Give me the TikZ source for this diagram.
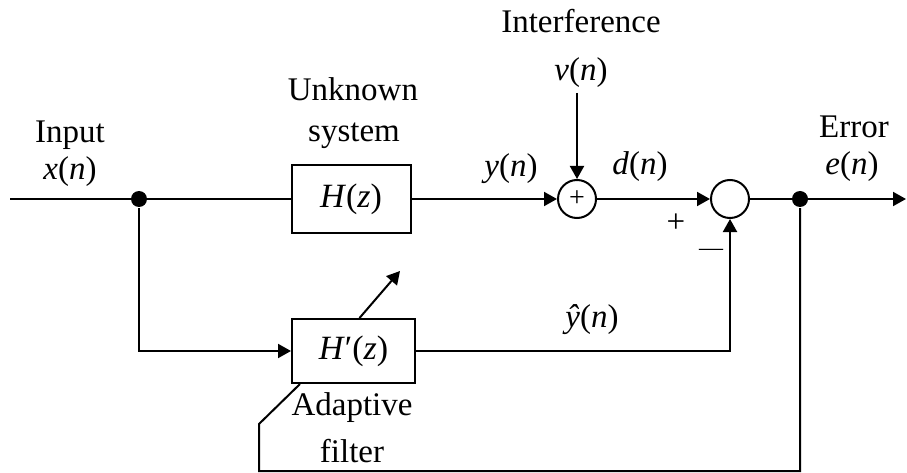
\documentclass[tikz,border=0pt]{standalone}
\usepackage{fontspec}
\setmainfont{Liberation Serif}
\usetikzlibrary{arrows.meta,calc}
\newcommand\iv[1]{\textit{#1}}
\begin{document}
\begin{tikzpicture}[x=1pt,y=-1pt, line width=2pt,
  >={Triangle[length=13pt,width=14pt]},
  block/.style={draw, line width=2pt, inner sep=0pt, font=\fontsize{34}{40}\selectfont},
  sumnode/.style={draw, circle, minimum size=38pt, inner sep=0pt},
  dotnode/.style={circle, fill, minimum size=16pt, inner sep=0pt},
  lbl/.style={anchor=base, inner sep=0pt, font=\fontsize{33}{38}\selectfont}]
\useasboundingbox (0,0) rectangle (907,473);
% blocks
\node[block, minimum width=119pt, minimum height=68pt] (H) at (351,199) {\iv{H}(\iv{z})};
\node[block, minimum width=123pt, minimum height=64pt] (Hp) at (353.5,351) {\iv{H}′(\iv{z})};
\node[sumnode] (s1) at (577,199) {\fontsize{28}{28}\selectfont +};
\node[sumnode] (s2) at (730,199) {};
\node[dotnode] (j1) at (139,199) {};
\node[dotnode] (j2) at (800,199) {};
% helper coordinates
\coordinate (in) at (10,199);
\coordinate (out) at (906,199);
\coordinate (v) at (577,93);
\coordinate (fb1) at (800,471);
\coordinate (fb2) at (259,471);
\coordinate (fb3) at (259,424);
\coordinate (fb4) at ($(Hp.south west)+(9,0)$);
\coordinate (ad1) at ($(Hp.north)+(6,0)$);
\coordinate (ad2) at (400,271);
% connectors
\draw (in) -- (H.west);
\draw[->] (H) -- (s1);
\draw[->] (v) -- (s1);
\draw[->] (s1) -- (s2);
\draw[->] (s2) -- (out);
\draw[->] (j1) |- (Hp);
\draw[->] (Hp) -| (s2);
\draw (j2) -- (fb1) -- (fb2) -- (fb3) -- (fb4);
\draw[->] (ad1) -- (ad2);
% labels
\node[lbl] (tin) at (70,143) {Input};
\node[lbl] (tx) at (70,179) {\iv{x}(\iv{n})};
\node[lbl] (tunk) at (353,101) {Unknown};
\node[lbl] (tsys) at (354,142) {system};
\node[lbl] (tint) at (581,33) {Interference};
\node[lbl] (tv) at (581,81) {\iv{v}(\iv{n})};
\node[lbl] (ty) at (511,177) {\iv{y}(\iv{n})};
\node[lbl] (td) at (640,175) {\iv{d}(\iv{n})};
\node[lbl] (tplus) at (676,233) {+};
\node[lbl, font=\fontsize{24}{28}\selectfont] (tminus) at (711,255) {—};
\node[lbl] (terr) at (854,138) {Error};
\node[lbl] (te) at (852,175) {\iv{e}(\iv{n})};
\node[lbl] (tyh) at (592,327) {\iv{ŷ}(\iv{n})};
\node[lbl] (tad) at (352,415) {Adaptive};
\node[lbl] (tfil) at (352,462) {filter};
\end{tikzpicture}
\end{document}
